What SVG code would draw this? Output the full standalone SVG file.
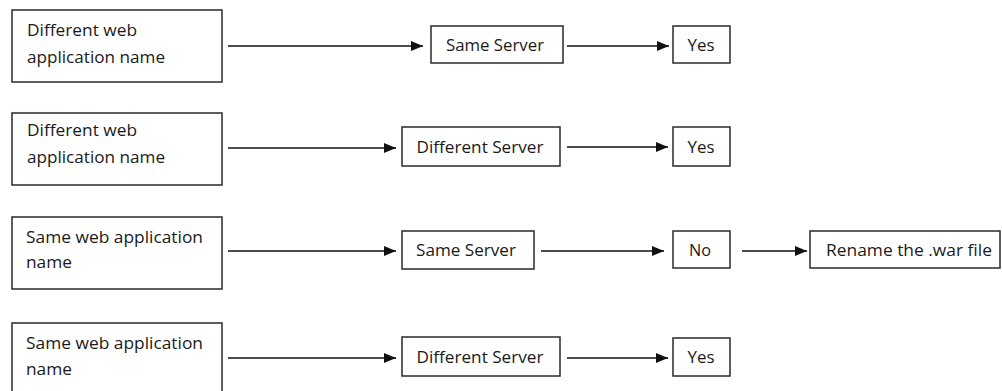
<svg xmlns="http://www.w3.org/2000/svg" width="1002" height="391" viewBox="0 0 1002 391">
<style>
rect.b{fill:#fff;stroke:#2a2a2a;stroke-width:1.5}
text{font-family:"Open Sans","Liberation Sans",sans-serif;font-size:17px;fill:#1a1a1a}
text.c{text-anchor:middle}
line.a{stroke:#111;stroke-width:1.6;marker-end:url(#ah)}
</style>
<defs>
<marker id="ah" markerUnits="userSpaceOnUse" markerWidth="13" markerHeight="11" refX="12" refY="5.5" orient="auto">
<path d="M0,0.5 L12,5.5 L0,10.5 Z" fill="#111"/>
</marker>
</defs>
<rect width="1002" height="391" fill="#fff"/>
<g id="connectors">
<line class="a" x1="228" y1="46" x2="423" y2="46"/>
<line class="a" x1="567" y1="46" x2="669" y2="46"/>
<line class="a" x1="228" y1="148" x2="396" y2="148"/>
<line class="a" x1="567" y1="147" x2="668" y2="147"/>
<line class="a" x1="228" y1="251" x2="396" y2="251"/>
<line class="a" x1="541" y1="251" x2="664" y2="251"/>
<line class="a" x1="742" y1="251" x2="807" y2="251"/>
<line class="a" x1="228" y1="358" x2="396" y2="358"/>
<line class="a" x1="567" y1="358" x2="668" y2="358"/>
</g>
<g id="n1"><rect class="b" x="12" y="10" width="210" height="72"/><text x="27" y="36" textLength="110" lengthAdjust="spacingAndGlyphs">Different web</text><text x="27" y="63" textLength="138" lengthAdjust="spacingAndGlyphs">application name</text></g>
<g id="n2"><rect class="b" x="431" y="26" width="132" height="37"/><text class="c" x="495" y="51" textLength="98" lengthAdjust="spacingAndGlyphs">Same Server</text></g>
<g id="n3"><rect class="b" x="673" y="26" width="57" height="37"/><text class="c" x="701" y="51" textLength="27" lengthAdjust="spacingAndGlyphs">Yes</text></g>
<g id="n4"><rect class="b" x="12" y="113" width="210" height="72"/><text x="27" y="136" textLength="110" lengthAdjust="spacingAndGlyphs">Different web</text><text x="27" y="163" textLength="138" lengthAdjust="spacingAndGlyphs">application name</text></g>
<g id="n5"><rect class="b" x="402" y="127" width="158" height="39"/><text class="c" x="480" y="153" textLength="127" lengthAdjust="spacingAndGlyphs">Different Server</text></g>
<g id="n6"><rect class="b" x="673" y="127" width="57" height="39"/><text class="c" x="701" y="153" textLength="27" lengthAdjust="spacingAndGlyphs">Yes</text></g>
<g id="n7"><rect class="b" x="12" y="217" width="210" height="72"/><text x="26" y="243" textLength="177" lengthAdjust="spacingAndGlyphs">Same web application</text><text x="26" y="268" textLength="46" lengthAdjust="spacingAndGlyphs">name</text></g>
<g id="n8"><rect class="b" x="402" y="231" width="132" height="38"/><text class="c" x="466" y="256" textLength="100" lengthAdjust="spacingAndGlyphs">Same Server</text></g>
<g id="n9"><rect class="b" x="673" y="231" width="57" height="37"/><text class="c" x="700" y="256" textLength="22" lengthAdjust="spacingAndGlyphs">No</text></g>
<g id="n10"><rect class="b" x="810" y="231" width="190" height="37"/><text x="826" y="256" textLength="166" lengthAdjust="spacingAndGlyphs">Rename the .war file</text></g>
<g id="n11"><rect class="b" x="12" y="323" width="210" height="72"/><text x="26" y="349" textLength="177" lengthAdjust="spacingAndGlyphs">Same web application</text><text x="26" y="375" textLength="46" lengthAdjust="spacingAndGlyphs">name</text></g>
<g id="n12"><rect class="b" x="402" y="337" width="158" height="39"/><text class="c" x="480" y="363" textLength="127" lengthAdjust="spacingAndGlyphs">Different Server</text></g>
<g id="n13"><rect class="b" x="673" y="338" width="57" height="38"/><text class="c" x="701" y="363" textLength="27" lengthAdjust="spacingAndGlyphs">Yes</text></g>
</svg>
